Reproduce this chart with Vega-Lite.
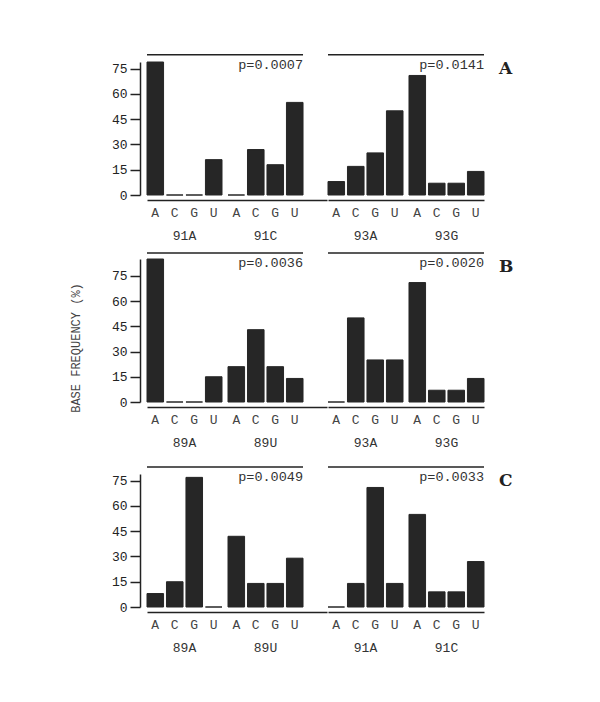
{
  "$schema": "https://vega.github.io/schema/vega-lite/v6.json",
  "padding": {"left": 70, "top": 54, "right": 5, "bottom": 5},
  "background": "white",
  "config": {
    "font": "Liberation Mono",
    "view": {"stroke": null},
    "axis": {"domainColor": "#222", "domainWidth": 1.5, "tickColor": "#222", "tickWidth": 1.5, "labelColor": "#222", "labelFont": "Liberation Mono", "labelFontSize": 13, "grid": false},
    "text": {"font": "Liberation Mono", "color": "#222"},
    "title": {"font": "Liberation Mono"}
  },
  "title": {"text": "BASE FREQUENCY (%)", "orient": "left", "anchor": "middle", "font": "Liberation Mono", "fontSize": 12, "fontWeight": "normal", "color": "#444", "offset": 28, "dx": 6},
  "datasets": {
    "bars": [
      {"panel": "AL", "group": "91A", "base": "A", "value": 79},
      {"panel": "AL", "group": "91A", "base": "C", "value": 0},
      {"panel": "AL", "group": "91A", "base": "G", "value": 0},
      {"panel": "AL", "group": "91A", "base": "U", "value": 21},
      {"panel": "AL", "group": "91C", "base": "A", "value": 0},
      {"panel": "AL", "group": "91C", "base": "C", "value": 27},
      {"panel": "AL", "group": "91C", "base": "G", "value": 18},
      {"panel": "AL", "group": "91C", "base": "U", "value": 55},
      {"panel": "AR", "group": "93A", "base": "A", "value": 8},
      {"panel": "AR", "group": "93A", "base": "C", "value": 17},
      {"panel": "AR", "group": "93A", "base": "G", "value": 25},
      {"panel": "AR", "group": "93A", "base": "U", "value": 50},
      {"panel": "AR", "group": "93G", "base": "A", "value": 71},
      {"panel": "AR", "group": "93G", "base": "C", "value": 7},
      {"panel": "AR", "group": "93G", "base": "G", "value": 7},
      {"panel": "AR", "group": "93G", "base": "U", "value": 14},
      {"panel": "BL", "group": "89A", "base": "A", "value": 85},
      {"panel": "BL", "group": "89A", "base": "C", "value": 0},
      {"panel": "BL", "group": "89A", "base": "G", "value": 0},
      {"panel": "BL", "group": "89A", "base": "U", "value": 15},
      {"panel": "BL", "group": "89U", "base": "A", "value": 21},
      {"panel": "BL", "group": "89U", "base": "C", "value": 43},
      {"panel": "BL", "group": "89U", "base": "G", "value": 21},
      {"panel": "BL", "group": "89U", "base": "U", "value": 14},
      {"panel": "BR", "group": "93A", "base": "A", "value": 0},
      {"panel": "BR", "group": "93A", "base": "C", "value": 50},
      {"panel": "BR", "group": "93A", "base": "G", "value": 25},
      {"panel": "BR", "group": "93A", "base": "U", "value": 25},
      {"panel": "BR", "group": "93G", "base": "A", "value": 71},
      {"panel": "BR", "group": "93G", "base": "C", "value": 7},
      {"panel": "BR", "group": "93G", "base": "G", "value": 7},
      {"panel": "BR", "group": "93G", "base": "U", "value": 14},
      {"panel": "CL", "group": "89A", "base": "A", "value": 8},
      {"panel": "CL", "group": "89A", "base": "C", "value": 15},
      {"panel": "CL", "group": "89A", "base": "G", "value": 77},
      {"panel": "CL", "group": "89A", "base": "U", "value": 0},
      {"panel": "CL", "group": "89U", "base": "A", "value": 42},
      {"panel": "CL", "group": "89U", "base": "C", "value": 14},
      {"panel": "CL", "group": "89U", "base": "G", "value": 14},
      {"panel": "CL", "group": "89U", "base": "U", "value": 29},
      {"panel": "CR", "group": "91A", "base": "A", "value": 0},
      {"panel": "CR", "group": "91A", "base": "C", "value": 14},
      {"panel": "CR", "group": "91A", "base": "G", "value": 71},
      {"panel": "CR", "group": "91A", "base": "U", "value": 14},
      {"panel": "CR", "group": "91C", "base": "A", "value": 55},
      {"panel": "CR", "group": "91C", "base": "C", "value": 9},
      {"panel": "CR", "group": "91C", "base": "G", "value": 9},
      {"panel": "CR", "group": "91C", "base": "U", "value": 27}
    ],
    "panels": [
      {"panel": "AL", "row": "A", "g1": "91A", "g2": "91C", "p": "p=0.0007"},
      {"panel": "AR", "row": "A", "g1": "93A", "g2": "93G", "p": "p=0.0141"},
      {"panel": "BL", "row": "B", "g1": "89A", "g2": "89U", "p": "p=0.0036"},
      {"panel": "BR", "row": "B", "g1": "93A", "g2": "93G", "p": "p=0.0020"},
      {"panel": "CL", "row": "C", "g1": "89A", "g2": "89U", "p": "p=0.0049"},
      {"panel": "CR", "row": "C", "g1": "91A", "g2": "91C", "p": "p=0.0033"}
    ]
  },
  "spacing": 17,
  "vconcat": [
    {
      "spacing": 10,
      "vconcat": [
        {
          "spacing": 0,
          "hconcat": [
            {
              "width": 180, "height": 133,
              "layer": [
                {"data": {"name": "bars"}, "transform": [{"filter": "datum.panel === 'AL'"}],
                 "mark": {"type": "bar", "color": "#262626", "stroke": "#262626", "strokeWidth": 1},
                 "encoding": {
                   "x": {"field": "group", "type": "nominal", "title": null, "scale": {"paddingInner": 0.074, "paddingOuter": 0.148, "align": 0}, "axis": {"orient": "bottom", "offset": 5, "ticks": false, "tickSize": 0, "labelAngle": 0, "labelPadding": 39, "labelBaseline": "alphabetic", "labelColor": "#333"}},
                   "xOffset": {"field": "base", "type": "nominal", "scale": {"paddingInner": 0.15, "paddingOuter": 0}},
                   "y": {"field": "value", "type": "quantitative", "title": null, "scale": {"domain": [0, 79], "nice": false}, "axis": {"offset": 7, "values": [0, 15, 30, 45, 60, 75], "tickSize": 10, "labelPadding": 3, "labelOverlap": false}}
                 }},
                {"data": {"name": "bars"}, "transform": [{"filter": "datum.panel === 'AL'"}],
                 "mark": {"type": "text", "baseline": "alphabetic", "fontSize": 13, "color": "#444"},
                 "encoding": {
                   "x": {"field": "group", "type": "nominal", "title": null},
                   "xOffset": {"field": "base", "type": "nominal"},
                   "y": {"datum": -13.3, "type": "quantitative", "title": null, "scale": {"domain": [0, 79], "nice": false}, "axis": {"offset": 7, "values": [0, 15, 30, 45, 60, 75], "tickSize": 10, "labelPadding": 3, "labelOverlap": false}},
                   "text": {"field": "base"}
                 }},
                {"data": {"name": "panels"}, "transform": [{"filter": "datum.panel === 'AL'"}],
                 "mark": {"type": "rule", "color": "#222", "strokeWidth": 1.5},
                 "encoding": {
                   "x": {"field": "g1", "type": "nominal", "bandPosition": 0, "title": null},
                   "x2": {"field": "g2", "bandPosition": 1},
                   "y": {"datum": 83.3, "type": "quantitative", "title": null, "scale": {"domain": [0, 79], "nice": false}, "axis": {"offset": 7, "values": [0, 15, 30, 45, 60, 75], "tickSize": 10, "labelPadding": 3, "labelOverlap": false}}
                 }},
                {"data": {"name": "panels"}, "transform": [{"filter": "datum.panel === 'AL'"}],
                 "mark": {"type": "text", "align": "right", "baseline": "top", "dy": 3, "fontSize": 13.5, "color": "#333"},
                 "encoding": {
                   "x": {"field": "g2", "type": "nominal", "bandPosition": 1, "title": null},
                   "y": {"datum": 83.3, "type": "quantitative", "title": null, "scale": {"domain": [0, 79], "nice": false}, "axis": {"offset": 7, "values": [0, 15, 30, 45, 60, 75], "tickSize": 10, "labelPadding": 3, "labelOverlap": false}},
                   "text": {"field": "p"}
                 }}
              ]
            },
            {
              "width": 156, "height": 133,
              "layer": [
                {"data": {"name": "bars"}, "transform": [{"filter": "datum.panel === 'AR'"}],
                 "mark": {"type": "bar", "color": "#262626", "stroke": "#262626", "strokeWidth": 1},
                 "encoding": {
                   "x": {"field": "group", "type": "nominal", "title": null, "scale": {"paddingInner": 0.074, "paddingOuter": 0}, "axis": {"orient": "bottom", "offset": 5, "ticks": false, "tickSize": 0, "labelAngle": 0, "labelPadding": 39, "labelBaseline": "alphabetic", "labelColor": "#333"}},
                   "xOffset": {"field": "base", "type": "nominal", "scale": {"paddingInner": 0.15, "paddingOuter": 0}},
                   "y": {"field": "value", "type": "quantitative", "title": null, "scale": {"domain": [0, 79], "nice": false}, "axis": null}
                 }},
                {"data": {"name": "bars"}, "transform": [{"filter": "datum.panel === 'AR'"}],
                 "mark": {"type": "text", "baseline": "alphabetic", "fontSize": 13, "color": "#444"},
                 "encoding": {
                   "x": {"field": "group", "type": "nominal", "title": null},
                   "xOffset": {"field": "base", "type": "nominal"},
                   "y": {"datum": -13.3, "type": "quantitative", "axis": null, "scale": {"domain": [0, 79], "nice": false}},
                   "text": {"field": "base"}
                 }},
                {"data": {"name": "panels"}, "transform": [{"filter": "datum.panel === 'AR'"}],
                 "mark": {"type": "rule", "color": "#222", "strokeWidth": 1.5},
                 "encoding": {
                   "x": {"field": "g1", "type": "nominal", "bandPosition": 0, "title": null},
                   "x2": {"field": "g2", "bandPosition": 1},
                   "y": {"datum": 83.3, "type": "quantitative", "axis": null, "scale": {"domain": [0, 79], "nice": false}}
                 }},
                {"data": {"name": "panels"}, "transform": [{"filter": "datum.panel === 'AR'"}],
                 "mark": {"type": "text", "align": "right", "baseline": "top", "dy": 3, "fontSize": 13.5, "color": "#333"},
                 "encoding": {
                   "x": {"field": "g2", "type": "nominal", "bandPosition": 1, "title": null},
                   "y": {"datum": 83.3, "type": "quantitative", "axis": null, "scale": {"domain": [0, 79], "nice": false}},
                   "text": {"field": "p"}
                 }},
                {"data": {"name": "panels"}, "transform": [{"filter": "datum.panel === 'AR'"}],
                 "mark": {"type": "text", "align": "left", "baseline": "top", "dx": 15, "dy": 6, "font": "DejaVu Serif", "fontWeight": "bold", "fontSize": 17, "color": "#222"},
                 "encoding": {
                   "x": {"field": "g2", "type": "nominal", "bandPosition": 1, "title": null},
                   "y": {"datum": 83.3, "type": "quantitative", "axis": null, "scale": {"domain": [0, 79], "nice": false}},
                   "text": {"field": "row"}
                 }}
              ]
            }
          ]
        },
        {
          "spacing": 0,
          "hconcat": [
            {
              "width": 180, "height": 143,
              "layer": [
                {"data": {"name": "bars"}, "transform": [{"filter": "datum.panel === 'BL'"}],
                 "mark": {"type": "bar", "color": "#262626", "stroke": "#262626", "strokeWidth": 1},
                 "encoding": {
                   "x": {"field": "group", "type": "nominal", "title": null, "scale": {"paddingInner": 0.074, "paddingOuter": 0.148, "align": 0}, "axis": {"orient": "bottom", "offset": 5, "ticks": false, "tickSize": 0, "labelAngle": 0, "labelPadding": 39, "labelBaseline": "alphabetic", "labelColor": "#333"}},
                   "xOffset": {"field": "base", "type": "nominal", "scale": {"paddingInner": 0.15, "paddingOuter": 0}},
                   "y": {"field": "value", "type": "quantitative", "title": null, "scale": {"domain": [0, 85], "nice": false}, "axis": {"offset": 7, "values": [0, 15, 30, 45, 60, 75], "tickSize": 10, "labelPadding": 3, "labelOverlap": false}}
                 }},
                {"data": {"name": "bars"}, "transform": [{"filter": "datum.panel === 'BL'"}],
                 "mark": {"type": "text", "baseline": "alphabetic", "fontSize": 13, "color": "#444"},
                 "encoding": {
                   "x": {"field": "group", "type": "nominal", "title": null},
                   "xOffset": {"field": "base", "type": "nominal"},
                   "y": {"datum": -13.3, "type": "quantitative", "title": null, "scale": {"domain": [0, 85], "nice": false}, "axis": {"offset": 7, "values": [0, 15, 30, 45, 60, 75], "tickSize": 10, "labelPadding": 3, "labelOverlap": false}},
                   "text": {"field": "base"}
                 }},
                {"data": {"name": "panels"}, "transform": [{"filter": "datum.panel === 'BL'"}],
                 "mark": {"type": "rule", "color": "#222", "strokeWidth": 1.5},
                 "encoding": {
                   "x": {"field": "g1", "type": "nominal", "bandPosition": 0, "title": null},
                   "x2": {"field": "g2", "bandPosition": 1},
                   "y": {"datum": 88.6, "type": "quantitative", "title": null, "scale": {"domain": [0, 85], "nice": false}, "axis": {"offset": 7, "values": [0, 15, 30, 45, 60, 75], "tickSize": 10, "labelPadding": 3, "labelOverlap": false}}
                 }},
                {"data": {"name": "panels"}, "transform": [{"filter": "datum.panel === 'BL'"}],
                 "mark": {"type": "text", "align": "right", "baseline": "top", "dy": 3, "fontSize": 13.5, "color": "#333"},
                 "encoding": {
                   "x": {"field": "g2", "type": "nominal", "bandPosition": 1, "title": null},
                   "y": {"datum": 88.6, "type": "quantitative", "title": null, "scale": {"domain": [0, 85], "nice": false}, "axis": {"offset": 7, "values": [0, 15, 30, 45, 60, 75], "tickSize": 10, "labelPadding": 3, "labelOverlap": false}},
                   "text": {"field": "p"}
                 }}
              ]
            },
            {
              "width": 156, "height": 143,
              "layer": [
                {"data": {"name": "bars"}, "transform": [{"filter": "datum.panel === 'BR'"}],
                 "mark": {"type": "bar", "color": "#262626", "stroke": "#262626", "strokeWidth": 1},
                 "encoding": {
                   "x": {"field": "group", "type": "nominal", "title": null, "scale": {"paddingInner": 0.074, "paddingOuter": 0}, "axis": {"orient": "bottom", "offset": 5, "ticks": false, "tickSize": 0, "labelAngle": 0, "labelPadding": 39, "labelBaseline": "alphabetic", "labelColor": "#333"}},
                   "xOffset": {"field": "base", "type": "nominal", "scale": {"paddingInner": 0.15, "paddingOuter": 0}},
                   "y": {"field": "value", "type": "quantitative", "title": null, "scale": {"domain": [0, 85], "nice": false}, "axis": null}
                 }},
                {"data": {"name": "bars"}, "transform": [{"filter": "datum.panel === 'BR'"}],
                 "mark": {"type": "text", "baseline": "alphabetic", "fontSize": 13, "color": "#444"},
                 "encoding": {
                   "x": {"field": "group", "type": "nominal", "title": null},
                   "xOffset": {"field": "base", "type": "nominal"},
                   "y": {"datum": -13.3, "type": "quantitative", "axis": null, "scale": {"domain": [0, 85], "nice": false}},
                   "text": {"field": "base"}
                 }},
                {"data": {"name": "panels"}, "transform": [{"filter": "datum.panel === 'BR'"}],
                 "mark": {"type": "rule", "color": "#222", "strokeWidth": 1.5},
                 "encoding": {
                   "x": {"field": "g1", "type": "nominal", "bandPosition": 0, "title": null},
                   "x2": {"field": "g2", "bandPosition": 1},
                   "y": {"datum": 88.6, "type": "quantitative", "axis": null, "scale": {"domain": [0, 85], "nice": false}}
                 }},
                {"data": {"name": "panels"}, "transform": [{"filter": "datum.panel === 'BR'"}],
                 "mark": {"type": "text", "align": "right", "baseline": "top", "dy": 3, "fontSize": 13.5, "color": "#333"},
                 "encoding": {
                   "x": {"field": "g2", "type": "nominal", "bandPosition": 1, "title": null},
                   "y": {"datum": 88.6, "type": "quantitative", "axis": null, "scale": {"domain": [0, 85], "nice": false}},
                   "text": {"field": "p"}
                 }},
                {"data": {"name": "panels"}, "transform": [{"filter": "datum.panel === 'BR'"}],
                 "mark": {"type": "text", "align": "left", "baseline": "top", "dx": 15, "dy": 6, "font": "DejaVu Serif", "fontWeight": "bold", "fontSize": 17, "color": "#222"},
                 "encoding": {
                   "x": {"field": "g2", "type": "nominal", "bandPosition": 1, "title": null},
                   "y": {"datum": 88.6, "type": "quantitative", "axis": null, "scale": {"domain": [0, 85], "nice": false}},
                   "text": {"field": "row"}
                 }}
              ]
            }
          ]
        }
      ]
    },
    {
      "spacing": 0,
      "hconcat": [
        {
          "width": 180, "height": 133,
          "layer": [
            {"data": {"name": "bars"}, "transform": [{"filter": "datum.panel === 'CL'"}],
             "mark": {"type": "bar", "color": "#262626", "stroke": "#262626", "strokeWidth": 1},
             "encoding": {
               "x": {"field": "group", "type": "nominal", "title": null, "scale": {"paddingInner": 0.074, "paddingOuter": 0.148, "align": 0}, "axis": {"orient": "bottom", "offset": 5, "ticks": false, "tickSize": 0, "labelAngle": 0, "labelPadding": 39, "labelBaseline": "alphabetic", "labelColor": "#333"}},
               "xOffset": {"field": "base", "type": "nominal", "scale": {"paddingInner": 0.15, "paddingOuter": 0}},
               "y": {"field": "value", "type": "quantitative", "title": null, "scale": {"domain": [0, 79], "nice": false}, "axis": {"offset": 7, "values": [0, 15, 30, 45, 60, 75], "tickSize": 10, "labelPadding": 3, "labelOverlap": false}}
             }},
            {"data": {"name": "bars"}, "transform": [{"filter": "datum.panel === 'CL'"}],
             "mark": {"type": "text", "baseline": "alphabetic", "fontSize": 13, "color": "#444"},
             "encoding": {
               "x": {"field": "group", "type": "nominal", "title": null},
               "xOffset": {"field": "base", "type": "nominal"},
               "y": {"datum": -13.3, "type": "quantitative", "title": null, "scale": {"domain": [0, 79], "nice": false}, "axis": {"offset": 7, "values": [0, 15, 30, 45, 60, 75], "tickSize": 10, "labelPadding": 3, "labelOverlap": false}},
               "text": {"field": "base"}
             }},
            {"data": {"name": "panels"}, "transform": [{"filter": "datum.panel === 'CL'"}],
             "mark": {"type": "rule", "color": "#222", "strokeWidth": 1.5},
             "encoding": {
               "x": {"field": "g1", "type": "nominal", "bandPosition": 0, "title": null},
               "x2": {"field": "g2", "bandPosition": 1},
               "y": {"datum": 83.2, "type": "quantitative", "title": null, "scale": {"domain": [0, 79], "nice": false}, "axis": {"offset": 7, "values": [0, 15, 30, 45, 60, 75], "tickSize": 10, "labelPadding": 3, "labelOverlap": false}}
             }},
            {"data": {"name": "panels"}, "transform": [{"filter": "datum.panel === 'CL'"}],
             "mark": {"type": "text", "align": "right", "baseline": "top", "dy": 3, "fontSize": 13.5, "color": "#333"},
             "encoding": {
               "x": {"field": "g2", "type": "nominal", "bandPosition": 1, "title": null},
               "y": {"datum": 83.2, "type": "quantitative", "title": null, "scale": {"domain": [0, 79], "nice": false}, "axis": {"offset": 7, "values": [0, 15, 30, 45, 60, 75], "tickSize": 10, "labelPadding": 3, "labelOverlap": false}},
               "text": {"field": "p"}
             }}
          ]
        },
        {
          "width": 156, "height": 133,
          "layer": [
            {"data": {"name": "bars"}, "transform": [{"filter": "datum.panel === 'CR'"}],
             "mark": {"type": "bar", "color": "#262626", "stroke": "#262626", "strokeWidth": 1},
             "encoding": {
               "x": {"field": "group", "type": "nominal", "title": null, "scale": {"paddingInner": 0.074, "paddingOuter": 0}, "axis": {"orient": "bottom", "offset": 5, "ticks": false, "tickSize": 0, "labelAngle": 0, "labelPadding": 39, "labelBaseline": "alphabetic", "labelColor": "#333"}},
               "xOffset": {"field": "base", "type": "nominal", "scale": {"paddingInner": 0.15, "paddingOuter": 0}},
               "y": {"field": "value", "type": "quantitative", "title": null, "scale": {"domain": [0, 79], "nice": false}, "axis": null}
             }},
            {"data": {"name": "bars"}, "transform": [{"filter": "datum.panel === 'CR'"}],
             "mark": {"type": "text", "baseline": "alphabetic", "fontSize": 13, "color": "#444"},
             "encoding": {
               "x": {"field": "group", "type": "nominal", "title": null},
               "xOffset": {"field": "base", "type": "nominal"},
               "y": {"datum": -13.3, "type": "quantitative", "axis": null, "scale": {"domain": [0, 79], "nice": false}},
               "text": {"field": "base"}
             }},
            {"data": {"name": "panels"}, "transform": [{"filter": "datum.panel === 'CR'"}],
             "mark": {"type": "rule", "color": "#222", "strokeWidth": 1.5},
             "encoding": {
               "x": {"field": "g1", "type": "nominal", "bandPosition": 0, "title": null},
               "x2": {"field": "g2", "bandPosition": 1},
               "y": {"datum": 83.2, "type": "quantitative", "axis": null, "scale": {"domain": [0, 79], "nice": false}}
             }},
            {"data": {"name": "panels"}, "transform": [{"filter": "datum.panel === 'CR'"}],
             "mark": {"type": "text", "align": "right", "baseline": "top", "dy": 3, "fontSize": 13.5, "color": "#333"},
             "encoding": {
               "x": {"field": "g2", "type": "nominal", "bandPosition": 1, "title": null},
               "y": {"datum": 83.2, "type": "quantitative", "axis": null, "scale": {"domain": [0, 79], "nice": false}},
               "text": {"field": "p"}
             }},
            {"data": {"name": "panels"}, "transform": [{"filter": "datum.panel === 'CR'"}],
             "mark": {"type": "text", "align": "left", "baseline": "top", "dx": 15, "dy": 6, "font": "DejaVu Serif", "fontWeight": "bold", "fontSize": 17, "color": "#222"},
             "encoding": {
               "x": {"field": "g2", "type": "nominal", "bandPosition": 1, "title": null},
               "y": {"datum": 83.2, "type": "quantitative", "axis": null, "scale": {"domain": [0, 79], "nice": false}},
               "text": {"field": "row"}
             }}
          ]
        }
      ]
    }
  ]
}
